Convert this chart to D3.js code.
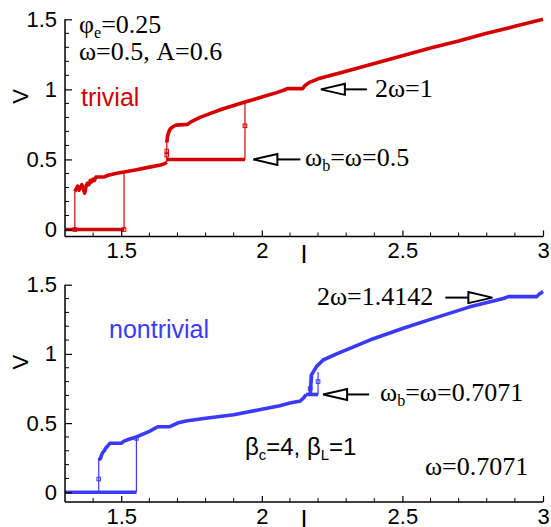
<!DOCTYPE html>
<html><head><meta charset="utf-8">
<script src="https://cdn.jsdelivr.net/npm/d3@7"></script>
<style>
html,body{margin:0;padding:0;background:#fff;}
svg{display:block;}
</style></head>
<body>
<svg id="c" width="551" height="527"></svg>
<script>
// ---------- data ----------
const xTicksMajor = [1.5, 2, 2.5, 3];
const yTicksMajor = [0, 0.5, 1, 1.5];
const xTickLabels = ["1.5", "2", "2.5", "3"];
const yTickLabels = ["0", "0.5", "1", "1.5"];

// top panel: trivial (red)
const trivZeroI = [1.30, 1.51];
const trivZeroV = [0, 0];
const trivLowI = [1.335, 1.34, 1.345, 1.35, 1.355, 1.36, 1.365, 1.37, 1.375, 1.38, 1.385, 1.39, 1.395, 1.40, 1.405, 1.41, 1.44, 1.45, 1.48, 1.51, 1.55, 1.60, 1.64, 1.655, 1.662];
const trivLowV = [0.27, 0.29, 0.31, 0.28, 0.30, 0.32, 0.29, 0.26, 0.31, 0.33, 0.32, 0.35, 0.34, 0.36, 0.35, 0.375, 0.375, 0.385, 0.40, 0.41, 0.425, 0.445, 0.46, 0.47, 0.48];
const trivLockI = [1.662, 1.94];
const trivLockV = [0.5, 0.5];
const trivHighI = [1.662, 1.665, 1.67, 1.675, 1.685, 1.695, 1.735, 1.75, 1.78, 1.82, 1.86, 1.90, 1.94, 2.0, 2.05, 2.08, 2.09, 2.145, 2.155, 2.17, 2.2, 2.3, 2.4, 2.5, 2.6, 2.7, 2.8, 2.9, 3.0];
const trivHighV = [0.62, 0.67, 0.70, 0.72, 0.735, 0.745, 0.75, 0.77, 0.80, 0.83, 0.86, 0.885, 0.91, 0.945, 0.975, 0.995, 1.005, 1.005, 1.03, 1.05, 1.075, 1.13, 1.185, 1.24, 1.295, 1.345, 1.40, 1.45, 1.50];
const trivJumpI = [1.335, 1.51, 1.662, 1.94];
const trivJumpFrom = [0, 0, 0.48, 0.5];
const trivJumpTo = [0.27, 0.41, 0.62, 0.91];
const trivMarkI = [1.335, 1.51, 1.662, 1.662, 1.94];
const trivMarkV = [0, 0, 0.53, 0.56, 0.74];

// bottom panel: nontrivial (blue)
const nonZeroI = [1.30, 1.554];
const nonZeroV = [0, 0];
const nonLowI = [1.42, 1.425, 1.43, 1.435, 1.44, 1.445, 1.45, 1.46, 1.50, 1.51, 1.53, 1.554, 1.60, 1.63, 1.673, 1.70, 1.73, 1.80, 1.90, 2.0, 2.064, 2.10, 2.137, 2.15, 2.157];
const nonLowV = [0.25, 0.24, 0.27, 0.29, 0.30, 0.32, 0.33, 0.355, 0.355, 0.37, 0.385, 0.40, 0.44, 0.474, 0.474, 0.50, 0.515, 0.535, 0.56, 0.60, 0.625, 0.645, 0.66, 0.685, 0.707];
const nonLockI = [2.157, 2.2];
const nonLockV = [0.707, 0.707];
const nonHighI = [2.172, 2.177, 2.195, 2.218, 2.266, 2.384, 2.503, 2.622, 2.74, 2.859, 2.877, 2.978, 2.985, 3.0];
const nonHighV = [0.707, 0.85, 0.91, 0.956, 1.0, 1.10, 1.185, 1.264, 1.34, 1.40, 1.414, 1.414, 1.43, 1.45];
const nonJumpI = [1.42, 1.554, 2.172, 2.2];
const nonJumpFrom = [0, 0, 0.707, 0.707];
const nonJumpTo = [0.25, 0.40, 0.85, 0.87];
const nonMarkI = [1.42, 1.554, 2.2, 2.172];
const nonMarkV = [0.096, 0.39, 0.80, 0.75];

const RED = "#d40000";
const BLUE = "#3a3afc";
const SANS = "'Liberation Sans', Arial, sans-serif";
const SERIF = "'Liberation Serif', 'Times New Roman', serif";

const svg = d3.select("#c");

function zip(a, b) { return a.map((v, i) => [v, b[i]]); }

function panel(opt) {
  const x = d3.scaleLinear().domain([1.3, 3]).range([65, 543]);
  const y = d3.scaleLinear().domain(opt.yDomain).range(opt.yRange);
  const g = svg.append("g");
  const line = d3.line().x(d => x(d[0])).y(d => y(d[1]));

  opt.jumpI.forEach((I, i) => {
    g.append("path").attr("d", line([[I, opt.jumpFrom[i]], [I, opt.jumpTo[i]]]))
      .attr("fill", "none").attr("stroke", opt.color).attr("stroke-width", 1.2);
  });
  opt.segs.forEach(s => {
    g.append("path").attr("d", line(zip(s[0], s[1])))
      .attr("fill", "none").attr("stroke", opt.color).attr("stroke-width", 3.6)
      .attr("stroke-linejoin", "round");
  });
  opt.markI.forEach((I, i) => {
    g.append("rect").attr("x", x(I) - 1.8).attr("y", y(opt.markV[i]) - 1.8)
      .attr("width", 3.6).attr("height", 3.6)
      .attr("fill", "none").attr("stroke", opt.color).attr("stroke-width", 1);
  });

  const y0 = opt.yRange[0];
  const ax = g.append("g").attr("transform", `translate(0,${y0})`)
    .call(d3.axisBottom(x).tickValues(xTicksMajor).tickSize(-6).tickFormat((d, i) => xTickLabels[i]).tickPadding(6));
  ax.select(".domain").attr("stroke-width", 1.5).attr("d", `M65,0H543`);
  ax.selectAll("text").attr("font-family", SANS).attr("font-size", 22).attr("fill", "#000");
  ax.selectAll("line").attr("stroke-width", 1.2);
  const minorX = d3.range(14, 31).map(v => v / 10).filter(v => !xTicksMajor.some(m => Math.abs(m - v) < 1e-6));
  minorX.forEach(v => g.append("line").attr("x1", x(v)).attr("x2", x(v)).attr("y1", y0).attr("y2", y0 - 4)
    .attr("stroke", "#000").attr("stroke-width", 1));

  const ay = g.append("g").attr("transform", `translate(65,0)`)
    .call(d3.axisLeft(y).tickValues(yTicksMajor).tickSize(-7).tickFormat((d, i) => yTickLabels[i]).tickPadding(8));
  ay.select(".domain").attr("stroke-width", 1.5).attr("d", `M0,${y0}V${opt.yRange[1]}`);
  ay.selectAll("text").attr("font-family", SANS).attr("font-size", 22).attr("fill", "#000");
  ay.selectAll("line").attr("stroke-width", 1.2);
  const minorY = d3.range(1, 15).map(v => v / 10).filter(v => !yTicksMajor.some(m => Math.abs(m - v) < 1e-6));
  minorY.forEach(v => g.append("line").attr("x1", 65).attr("x2", 69).attr("y1", y(v)).attr("y2", y(v))
    .attr("stroke", "#000").attr("stroke-width", 1));

  g.append("text").attr("transform", `translate(28,${y(opt.vLabelAt)}) rotate(-90)`)
    .attr("text-anchor", "middle").attr("font-family", SANS).attr("font-size", 22).text("V");
  g.append("text").attr("x", x(2.15)).attr("y", y0 + 26).attr("text-anchor", "middle")
    .attr("font-family", SANS).attr("font-size", 25).text("I");

  return { x, y, g };
}

function arrow(g, tipX, tipY, dir, len) {
  const headL = 24, headH = 5.5;
  const baseX = tipX - dir * headL;
  const endX = tipX - dir * len;
  g.append("line").attr("x1", baseX).attr("x2", endX).attr("y1", tipY).attr("y2", tipY)
    .attr("stroke", "#000").attr("stroke-width", 2);
  g.append("path").attr("d", `M${tipX},${tipY}L${baseX},${tipY - headH}L${baseX},${tipY + headH}Z`)
    .attr("fill", "#fff").attr("stroke", "#000").attr("stroke-width", 2).attr("stroke-linejoin", "miter");
}

function richText(g, xp, yp, parts, font, size, color) {
  const t = g.append("text").attr("x", xp).attr("y", yp).attr("font-family", font)
    .attr("font-size", size).attr("fill", color || "#000");
  let lift = 0;
  parts.forEach(p => {
    if (typeof p === "string") {
      const s = t.append("tspan").text(p);
      if (lift) { s.attr("dy", -lift); lift = 0; }
    } else {
      lift = 5;
      t.append("tspan").attr("dy", lift).attr("font-size", size * 0.62).text(p.sub);
    }
  });
  return t;
}

// ---------- top panel ----------
const topP = panel({
  yDomain: [-0.05, 1.5], yRange: [236.5, 19.3], color: RED,
  segs: [[trivZeroI, trivZeroV], [trivLowI, trivLowV], [trivLockI, trivLockV], [trivHighI, trivHighV]],
  jumpI: trivJumpI, jumpFrom: trivJumpFrom, jumpTo: trivJumpTo,
  markI: trivMarkI, markV: trivMarkV, vLabelAt: 0.95
});
richText(topP.g, 79, 33, ["\u03C6", { sub: "e" }, "=0.25"], SERIF, 26);
richText(topP.g, 79, 60, ["\u03C9=0.5, A=0.6"], SERIF, 26);
topP.g.append("text").attr("x", 81).attr("y", 106).attr("font-family", SANS).attr("font-size", 25)
  .attr("fill", RED).text("trivial");
arrow(topP.g, topP.x(2.21), topP.y(1.0), -1, 46);
richText(topP.g, 375, 97, ["2\u03C9=1"], SERIF, 26);
arrow(topP.g, topP.x(1.97), topP.y(0.5), -1, 47);
richText(topP.g, 305, 166, ["\u03C9", { sub: "b" }, "=\u03C9=0.5"], SERIF, 26);

// ---------- bottom panel ----------
const botP = panel({
  yDomain: [-0.07, 1.5], yRange: [502, 284.7], color: BLUE,
  segs: [[nonZeroI, nonZeroV], [nonLowI, nonLowV], [nonLockI, nonLockV], [nonHighI, nonHighV]],
  jumpI: nonJumpI, jumpFrom: nonJumpFrom, jumpTo: nonJumpTo,
  markI: nonMarkI, markV: nonMarkV, vLabelAt: 0.94
});
botP.g.append("text").attr("x", 109).attr("y", 338).attr("font-family", SANS).attr("font-size", 25)
  .attr("fill", BLUE).text("nontrivial");
richText(botP.g, 317, 305, ["2\u03C9=1.4142"], SERIF, 26);
arrow(botP.g, botP.x(2.82), botP.y(1.414) + 1, 1, 47);
richText(botP.g, 380, 401, ["\u03C9", { sub: "b" }, "=\u03C9=0.7071"], SERIF, 26);
arrow(botP.g, botP.x(2.218), botP.y(0.707), -1, 46);
richText(botP.g, 245, 455, ["\u03B2", { sub: "c" }, "=4, \u03B2", { sub: "L" }, "=1"], SANS, 24);
richText(botP.g, 425, 475, ["\u03C9=0.7071"], SERIF, 26);
</script>
</body></html>
